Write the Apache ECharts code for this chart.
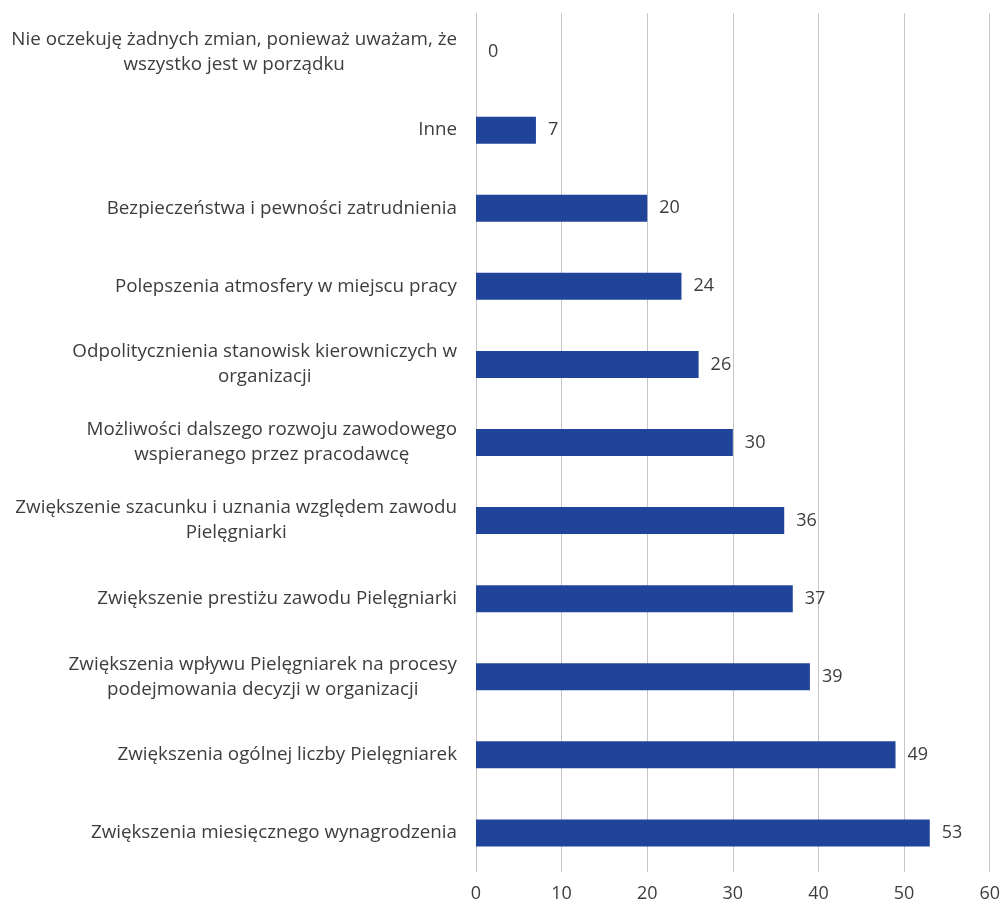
<!DOCTYPE html>
<html>
<head>
<meta charset="utf-8">
<script src="https://cdn.jsdelivr.net/npm/echarts@6/dist/echarts.min.js"></script>
<style>
  html, body { margin: 0; padding: 0; background: #ffffff; }
  #chart { width: 1003px; height: 907px; }
</style>
</head>
<body>
<div id="chart"></div>
<script>
// Expected changes at work, listed top to bottom
const categories = [
  'Nie oczekuję żadnych zmian, ponieważ uważam, że\nwszystko jest w porządku',
  'Inne',
  'Bezpieczeństwa i pewności zatrudnienia',
  'Polepszenia atmosfery w miejscu pracy',
  'Odpolitycznienia stanowisk kierowniczych w\norganizacji',
  'Możliwości dalszego rozwoju zawodowego\nwspieranego przez pracodawcę',
  'Zwiększenie szacunku i uznania względem zawodu\nPielęgniarki',
  'Zwiększenie prestiżu zawodu Pielęgniarki',
  'Zwiększenia wpływu Pielęgniarek na procesy\npodejmowania decyzji w organizacji',
  'Zwiększenia ogólnej liczby Pielęgniarek',
  'Zwiększenia miesięcznego wynagrodzenia'
];
const counts = [0, 7, 20, 24, 26, 30, 36, 37, 39, 49, 53];
const axisMin = 0;
const axisMax = 60;
const axisStep = 10;

const FONT = '"Open Sans", "Liberation Sans", sans-serif';
const TEXT = '#3d3d3d';
const SIZE = 18;
const CAT_SIZE = 18.8;

// each line of a wrapped label is centred inside the right-aligned block
const centredLines = v => v.split('\n').map(s => '{c|' + s + '}').join('\n');

const chart = echarts.init(document.getElementById('chart'), null, { renderer: 'canvas' });
chart.setOption({
  animation: false,
  backgroundColor: '#ffffff',
  grid: { left: 476, right: 13, top: 13, bottom: 35, containLabel: false },
  xAxis: {
    type: 'value',
    min: axisMin,
    max: axisMax,
    interval: axisStep,
    axisLine: { show: false },
    axisTick: { show: false },
    axisLabel: { color: TEXT, fontFamily: FONT, fontSize: SIZE, margin: 13 },
    splitLine: { show: true, lineStyle: { color: '#c6c6c6', width: 1 } }
  },
  yAxis: {
    type: 'category',
    inverse: true,
    data: categories,
    axisLine: { show: false },
    axisTick: { show: false },
    axisLabel: {
      color: TEXT,
      fontFamily: FONT,
      fontSize: CAT_SIZE,
      margin: 19,
      formatter: centredLines,
      rich: {
        c: { align: 'center', color: TEXT, fontFamily: FONT, fontSize: CAT_SIZE, lineHeight: 25 }
      }
    }
  },
  series: [{
    type: 'bar',
    data: counts,
    barWidth: 27,
    itemStyle: { color: '#21449b' },
    label: {
      show: true,
      position: 'right',
      distance: 12,
      color: TEXT,
      fontFamily: FONT,
      fontSize: SIZE
    }
  }]
});
</script>
</body>
</html>
